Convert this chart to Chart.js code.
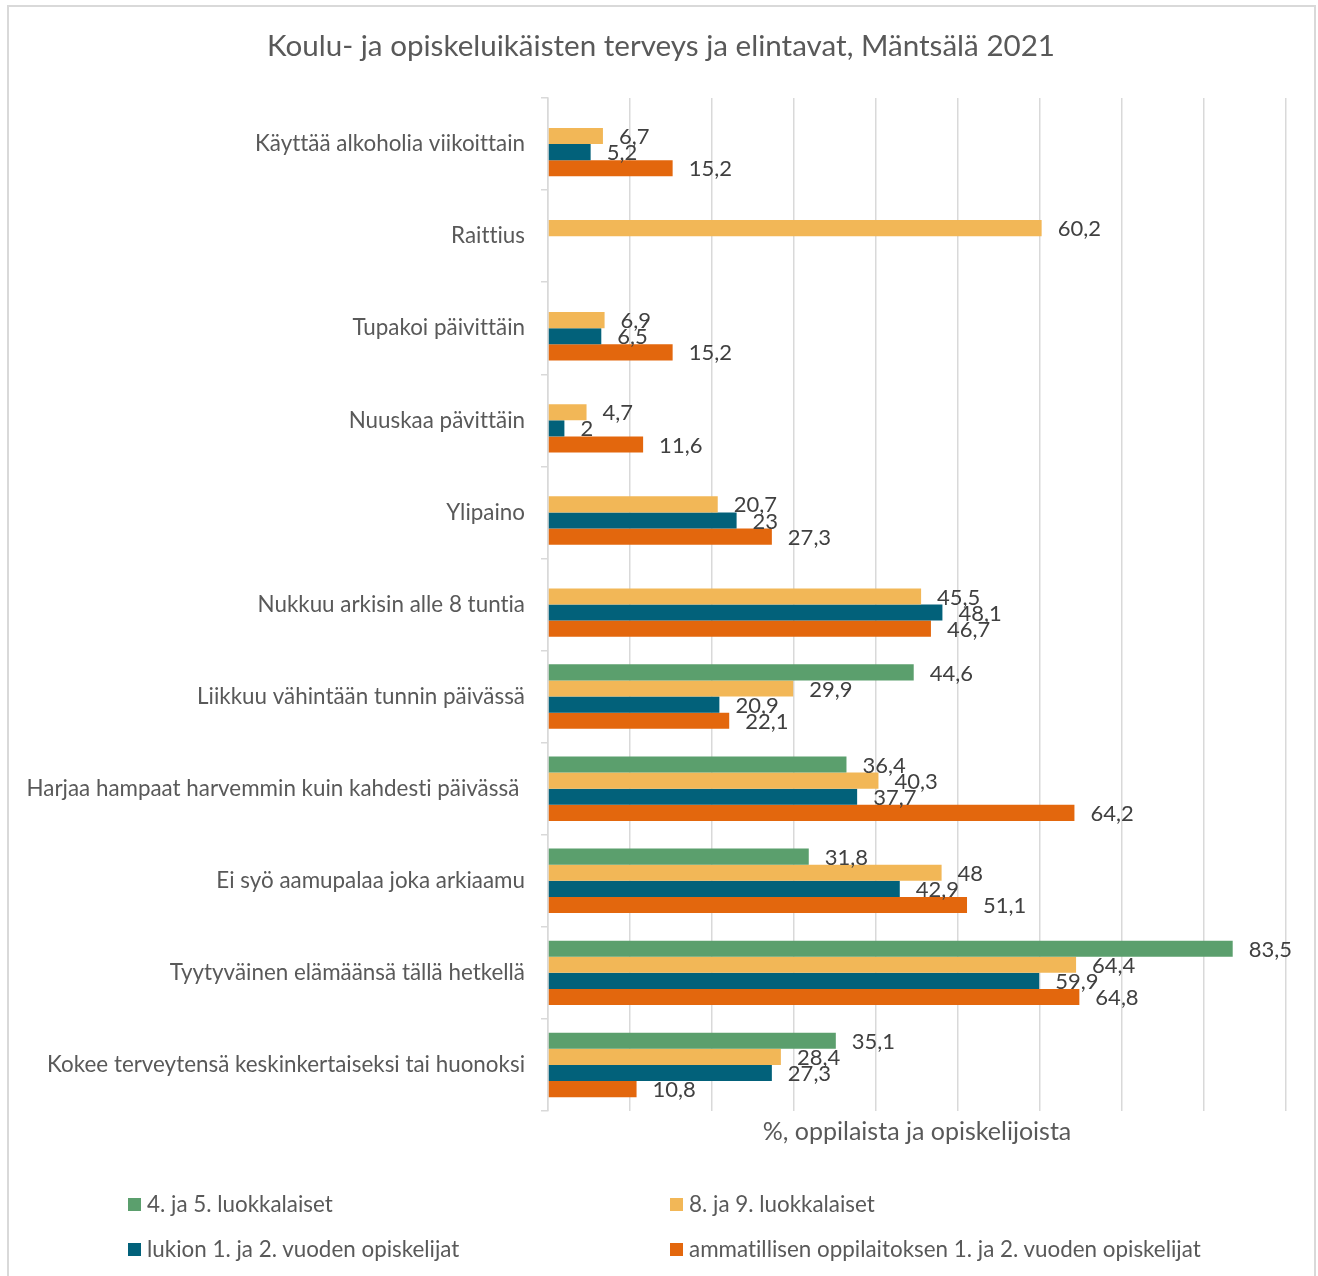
<!DOCTYPE html>
<html>
<head>
<meta charset="utf-8">
<script src="https://cdn.jsdelivr.net/npm/chart.js@4.4.1/dist/chart.umd.min.js"></script>
<style>
html,body{margin:0;padding:0;background:#fff;}
#wrap{position:relative;width:1318px;height:1276px;overflow:hidden;background:#fff;}
#frame{position:absolute;left:7px;top:5px;width:1309px;height:1300px;border:2px solid #d9d9d9;box-sizing:border-box;}
#c{position:absolute;left:0;top:0;}
#title{position:absolute;left:0;top:30px;width:1322px;text-align:center;font-family:Lato,sans-serif;font-size:29.6px;line-height:30px;color:#595959;white-space:nowrap;font-variant-ligatures:none;}
.leg{position:absolute;display:flex;align-items:center;font-family:Lato,sans-serif;font-size:22.4px;line-height:24px;color:#595959;white-space:nowrap;font-variant-ligatures:none;}
.leg i{display:inline-block;width:13px;height:13px;margin-right:6px;}
</style>
</head>
<body>
<div id="wrap">
  <div id="frame"></div>
  <canvas id="c" width="1318" height="1276"></canvas>
  <div id="title"></div>
  <div id="legend"></div>
</div>
<script>
const chartTitle = "Koulu- ja opiskeluikäisten terveys ja elintavat, Mäntsälä 2021";
const xAxisTitle = "%, oppilaista ja opiskelijoista";
const categories = [
  "Käyttää alkoholia viikoittain",
  "Raittius",
  "Tupakoi päivittäin",
  "Nuuskaa pävittäin",
  "Ylipaino",
  "Nukkuu arkisin alle 8 tuntia",
  "Liikkuu vähintään tunnin päivässä",
  "Harjaa hampaat harvemmin kuin kahdesti päivässä ",
  "Ei syö aamupalaa joka arkiaamu",
  "Tyytyväinen elämäänsä tällä hetkellä",
  "Kokee terveytensä keskinkertaiseksi tai huonoksi"
];
const seriesNames = [
  "4. ja 5. luokkalaiset",
  "8. ja 9. luokkalaiset",
  "lukion 1. ja 2. vuoden opiskelijat",
  "ammatillisen oppilaitoksen 1. ja 2. vuoden opiskelijat"
];
const grade45 = [null, null, null, null, null, null, 44.6, 36.4, 31.8, 83.5, 35.1];
const grade89 = [6.7, 60.2, 6.9, 4.7, 20.7, 45.5, 29.9, 40.3, 48, 64.4, 28.4];
const lukio   = [5.2, null, 6.5, 2, 23, 48.1, 20.9, 37.7, 42.9, 59.9, 27.3];
const ammat   = [15.2, null, 15.2, 11.6, 27.3, 46.7, 22.1, 64.2, 51.1, 64.8, 10.8];
const xTicksMin = 0, xTicksMax = 90, xTicksStep = 10;

const colors = ["#5B9F6D", "#F2B757", "#02617A", "#E3670D"];
const seriesData = [grade45, grade89, lukio, ammat];

document.getElementById('title').textContent = chartTitle;

const legendPos = [[128,1204],[670,1204],[128,1249],[670,1249]];
const legendEl = document.getElementById('legend');
seriesNames.forEach((n,i)=>{
  const d = document.createElement('div');
  d.className = 'leg';
  d.style.left = legendPos[i][0] + 'px';
  d.style.top = (legendPos[i][1] - 12) + 'px';
  const sw = document.createElement('i');
  sw.style.background = colors[i];
  d.appendChild(sw);
  d.appendChild(document.createTextNode(n));
  legendEl.appendChild(d);
});

const noLigatures = {
  id: 'noLigatures',
  beforeDraw(chart) {
    try { chart.ctx.textRendering = 'optimizeSpeed'; } catch (e) {}
  }
};

const valueLabels = {
  id: 'valueLabels',
  afterDatasetsDraw(chart) {
    const ctx = chart.ctx;
    ctx.save();
    ctx.font = '22px Lato';
    ctx.fillStyle = '#404040';
    ctx.textAlign = 'left';
    ctx.textBaseline = 'middle';
    chart.data.datasets.forEach((ds, i) => {
      const meta = chart.getDatasetMeta(i);
      meta.data.forEach((el, j) => {
        const v = ds.data[j];
        if (v === null || v === undefined) return;
        ctx.fillText(String(v).replace('.', ','), el.x + 16, el.y + 1);
      });
    });
    ctx.restore();
  }
};

new Chart(document.getElementById('c'), {
  type: 'bar',
  data: {
    labels: categories,
    datasets: seriesData.map((d, i) => ({
      label: seriesNames[i],
      data: d,
      backgroundColor: colors[i],
      borderWidth: 0,
      categoryPercentage: 0.7,
      barPercentage: 1.0
    }))
  },
  options: {
    indexAxis: 'y',
    responsive: false,
    devicePixelRatio: 1,
    animation: false,
    layout: { padding: { top: 98, left: 0, right: 32, bottom: 129 } },
    plugins: {
      legend: { display: false },
      title: { display: false },
      tooltip: { enabled: false }
    },
    scales: {
      x: {
        min: xTicksMin, max: xTicksMax,
        ticks: { display: false, stepSize: xTicksStep },
        grid: { color: '#d9d9d9', lineWidth: 1.5, drawTicks: false },
        border: { display: false },
        title: {
          display: true, text: xAxisTitle, color: '#595959',
          font: { family: 'Lato', size: 25 }, padding: { top: 0, bottom: 0 }
        },
        afterFit(s) { s.height = 36; }
      },
      y: {
        ticks: { color: '#595959', font: { family: 'Lato', size: 22.4 }, padding: 16, autoSkip: false },
        grid: { drawOnChartArea: false, color: '#d9d9d9', lineWidth: 1.5, tickLength: 7, offset: true },
        border: { color: '#d9d9d9', width: 1.5 },
        afterFit(s) { s.width = 548; }
      }
    }
  },
  plugins: [noLigatures, valueLabels]
});
</script>
</body>
</html>
